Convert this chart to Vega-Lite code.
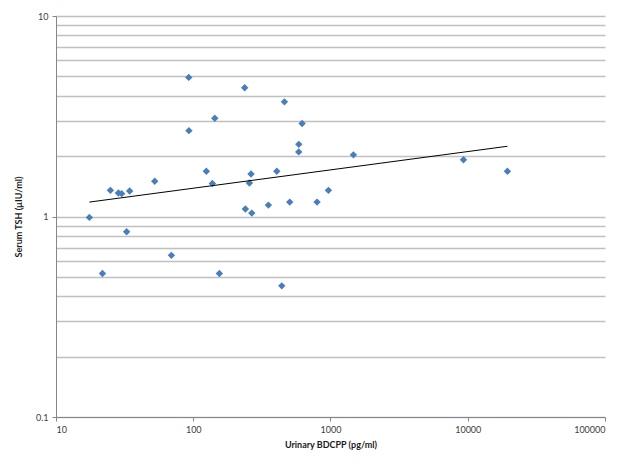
{
  "$schema": "https://vega.github.io/schema/vega-lite/v6.json",
  "width": 549,
  "height": 401,
  "autosize": {"type": "none"},
  "padding": {"left": 56, "top": 16, "right": 31, "bottom": 49},
  "background": "white",
  "config": {
    "font": "Lato",
    "view": {"stroke": null},
    "axis": {"labelFont": "Lato", "titleFont": "Lato"}
  },
  "datasets": {
    "points": [
      {"bdcpp": 17.5, "tsh": 0.99},
      {"bdcpp": 21.8, "tsh": 0.52},
      {"bdcpp": 24.9, "tsh": 1.35},
      {"bdcpp": 28.5, "tsh": 1.31},
      {"bdcpp": 30.1, "tsh": 1.30},
      {"bdcpp": 32.7, "tsh": 0.84},
      {"bdcpp": 34.4, "tsh": 1.34},
      {"bdcpp": 52.4, "tsh": 1.50},
      {"bdcpp": 69.3, "tsh": 0.64},
      {"bdcpp": 92.7, "tsh": 4.94},
      {"bdcpp": 93, "tsh": 2.68},
      {"bdcpp": 124.6, "tsh": 1.68},
      {"bdcpp": 137.8, "tsh": 1.46},
      {"bdcpp": 143.5, "tsh": 3.09},
      {"bdcpp": 155, "tsh": 0.52},
      {"bdcpp": 237, "tsh": 4.39},
      {"bdcpp": 239.8, "tsh": 1.09},
      {"bdcpp": 256.6, "tsh": 1.47},
      {"bdcpp": 263.7, "tsh": 1.63},
      {"bdcpp": 266.9, "tsh": 1.04},
      {"bdcpp": 352.7, "tsh": 1.14},
      {"bdcpp": 406, "tsh": 1.68},
      {"bdcpp": 441.6, "tsh": 0.451},
      {"bdcpp": 461.6, "tsh": 3.73},
      {"bdcpp": 504.8, "tsh": 1.18},
      {"bdcpp": 587.5, "tsh": 2.29},
      {"bdcpp": 587, "tsh": 2.10},
      {"bdcpp": 620.8, "tsh": 2.91},
      {"bdcpp": 798, "tsh": 1.18},
      {"bdcpp": 966, "tsh": 1.35},
      {"bdcpp": 1469, "tsh": 2.03},
      {"bdcpp": 9310, "tsh": 1.92},
      {"bdcpp": 19450, "tsh": 1.68}
    ],
    "trend": [
      {"bdcpp": 17.5, "tsh": 1.18},
      {"bdcpp": 19450, "tsh": 2.24}
    ]
  },
  "layer": [
    {
      "data": {"name": "points"},
      "mark": {"type": "point", "shape": "diamond", "filled": true, "size": 55, "color": "#4a7ebb", "opacity": 1},
      "encoding": {
        "x": {
          "field": "bdcpp", "type": "quantitative",
          "scale": {"type": "log", "domain": [10, 100000], "nice": false},
          "axis": {
            "title": "Urinary BDCPP (pg/ml)",
            "titleFontSize": 9, "titleFontWeight": "bold", "titleColor": "#1a1a1a", "titlePadding": 6,
            "values": [10, 100, 1000, 10000, 100000],
            "format": "d",
            "labelFontSize": 9, "labelColor": "#404040", "labelPadding": 4,
            "grid": false,
            "domainColor": "#868686", "domainWidth": 1,
            "tickColor": "#868686", "tickSize": 4
          }
        },
        "y": {
          "field": "tsh", "type": "quantitative",
          "scale": {"type": "log", "domain": [0.1, 10], "nice": false},
          "axis": {
            "title": "Serum TSH (µIU/ml)",
            "titleFontSize": 9, "titleFontWeight": "bold", "titleColor": "#1a1a1a", "titlePadding": 12,
            "values": [0.1, 0.2, 0.3, 0.4, 0.5, 0.6, 0.7, 0.8, 0.9, 1, 2, 3, 4, 5, 6, 7, 8, 9, 10],
            "labelExpr": "(datum.value == 0.1 || datum.value == 1 || datum.value == 10) ? datum.label : ''",
            "format": "~g",
            "labelFontSize": 9, "labelColor": "#404040", "labelPadding": 4,
            "grid": true, "gridColor": "#c0c0c0", "gridWidth": 1.3,
            "domainColor": "#868686", "domainWidth": 1,
            "tickColor": {"expr": "(datum.value == 0.1 || datum.value == 1 || datum.value == 10) ? '#868686' : 'transparent'"},
            "tickSize": 4
          }
        }
      }
    },
    {
      "data": {"name": "trend"},
      "mark": {"type": "line", "color": "#000000", "strokeWidth": 1},
      "encoding": {
        "x": {"field": "bdcpp", "type": "quantitative"},
        "y": {"field": "tsh", "type": "quantitative"}
      }
    }
  ]
}
